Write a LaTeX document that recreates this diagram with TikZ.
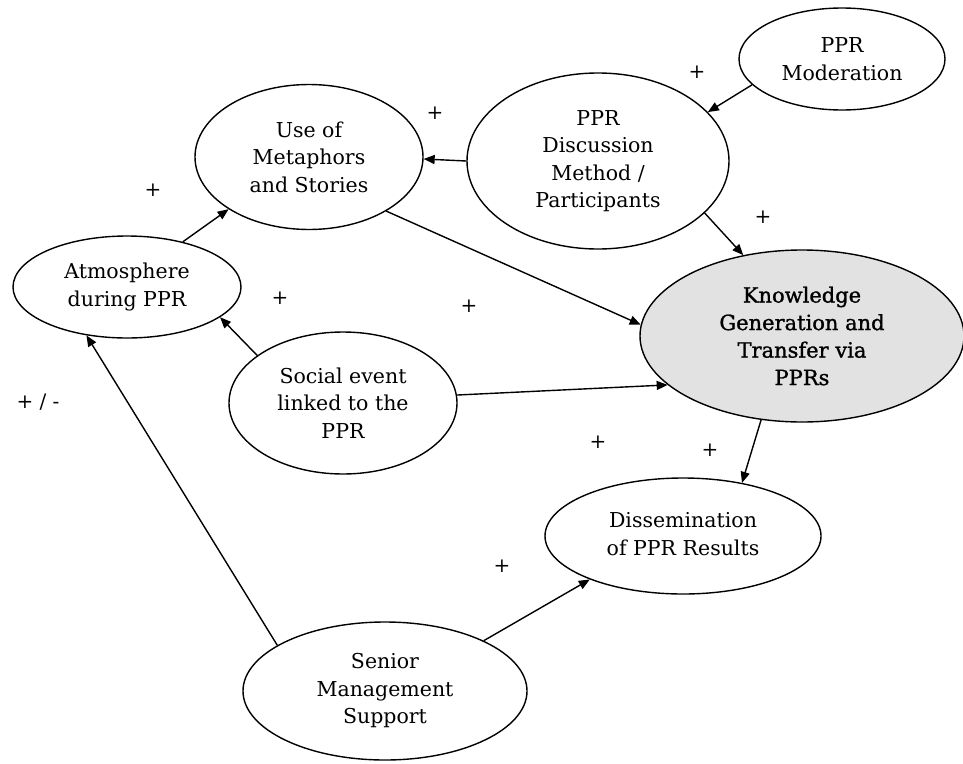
\documentclass[tikz,border=0pt]{standalone}
\usepackage{fontspec}
\setmainfont{DejaVu Serif}
\newfontfamily\kgfont[FakeBold=1.2]{DejaVu Serif}
\usetikzlibrary{shapes.geometric,arrows.meta}
\definecolor{kgfill}{RGB}{226,226,226}
\begin{document}
\begin{tikzpicture}[x=1pt,y=-1pt,
  bubble/.style={ellipse,draw=black,line width=1.4pt,inner sep=0pt,align=center,
    font=\fontsize{20.5}{27.5}\selectfont},
  link/.style={line width=1.4pt,-{Triangle[length=11pt,width=9pt]}},
  sign/.style={font=\fontsize{20}{24}\selectfont,inner sep=0pt}]
\useasboundingbox (0,0) rectangle (963,763);
\fill[white] (0,0) rectangle (963,763);

% factors
\node[bubble,minimum width=206pt,minimum height=102pt] (mod) at (842,59) {PPR\\Moderation};
\node[bubble,minimum width=262pt,minimum height=176pt] (disc) at (598,161) {PPR\\Discussion\\Method /\\Participants};
\node[bubble,minimum width=228pt,minimum height=145pt] (meta) at (309,157) {Use of\\Metaphors\\and Stories};
\node[bubble,minimum width=228pt,minimum height=102pt] (atm) at (127,287) {Atmosphere\\during PPR};
\node[bubble,fill=kgfill,minimum width=324pt,minimum height=172pt,
  font=\kgfont\fontsize{21}{27.5}\selectfont] (know) at (802,336) {Knowledge\\Generation and\\Transfer via\\PPRs};
\node[bubble,minimum width=228pt,minimum height=142pt] (soc) at (343,403) {Social event\\linked to the\\PPR};
\node[bubble,minimum width=276pt,minimum height=116pt] (diss) at (683,536) {\raisebox{5pt}{\begin{tabular}{@{}c@{}}Dissemination\\of PPR Results\end{tabular}}};
\node[bubble,minimum width=284pt,minimum height=138pt] (sen) at (385,691) {Senior\\Management\\Support};

% influences
\draw[link] (mod.-164) -- (disc.24);
\draw[link] (disc.180) -- (meta.-1.5);
\draw[link] (disc.-26.6) -- (know.126);
\draw[link] (meta.-35) -- (know.176);
\draw[link] (atm.39.4) -- (meta.-147);
\draw[link] (soc.151) -- (atm.-18.4);
\draw[link] (sen.157) -- (atm.-130);
\draw[link] (soc.4.5) -- (know.-160);
\draw[link] (know.-116) -- (diss.42.5);
\draw[link] (sen.27) -- (diss.-155);

% polarity signs
\node[sign] (s1) at (697,72) {+};
\node[sign] (s2) at (435,113) {+};
\node[sign] (s3) at (153,190) {+};
\node[sign] (s4) at (763,217) {+};
\node[sign] (s5) at (280,298) {+};
\node[sign] (s6) at (469,306) {+};
\node[sign] (s7) at (598,442) {+};
\node[sign] (s8) at (710,450) {+};
\node[sign] (s9) at (502,566) {+};
\node[sign] (s10) at (38,402) {+ / -};
\end{tikzpicture}
\end{document}
